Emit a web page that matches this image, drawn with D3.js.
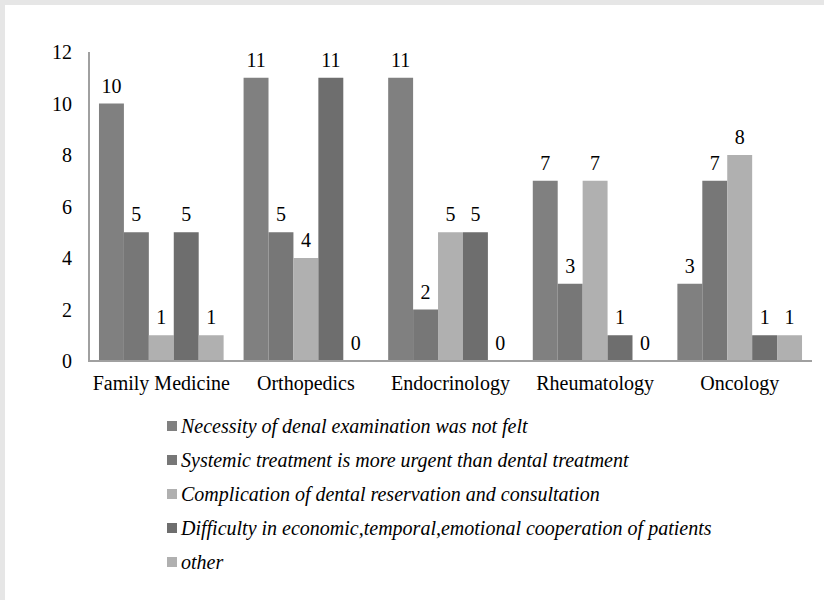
<!DOCTYPE html>
<html>
<meta charset="utf-8">
<style>
  body { margin: 0; background: #e6e6e6; }
  svg { display: block; }
  svg text { font-family: "Times New Roman", "Liberation Serif", Tinos, serif !important; }
  svg text.key { font-style: italic; }
</style>
<body>
<script src="https://d3js.org/d3.v7.min.js"></script>
<script>
  let width = 824, height = 600;
  let serifFont = "Times New Roman";

  let categories = ["Family Medicine", "Orthopedics", "Endocrinology", "Rheumatology", "Oncology"];
  let seriesNames = [
    "Necessity of denal examination was not felt",
    "Systemic treatment is more urgent than dental treatment",
    "Complication of dental reservation and consultation",
    "Difficulty in economic,temporal,emotional cooperation of patients",
    "other"
  ];
  let necessity = [10, 11, 11, 7, 3];
  let systemic = [5, 5, 2, 3, 7];
  let complication = [1, 4, 5, 7, 8];
  let difficulty = [5, 11, 5, 1, 1];
  let other = [1, 0, 0, 0, 1];
  let yTicks = [0, 2, 4, 6, 8, 10, 12];
  let colors = ["#808080", "#777777", "#b0b0b0", "#6e6e6e", "#b0b0b0"];

  let series = [necessity, systemic, complication, difficulty, other];

  let svg = d3.select("body").append("svg")
    .attr("width", width)
    .attr("height", height);

  svg.append("rect")
    .attr("x", 5).attr("y", 5)
    .attr("width", width - 5).attr("height", height - 5)
    .attr("fill", "#fff");

  let plotLeft = 89, plotRight = 812, plotTop = 52, plotBottom = 361;

  let x = d3.scaleBand().domain(categories).range([plotLeft, plotRight]).paddingInner(0.138).paddingOuter(0.069);
  let xs = d3.scaleBand().domain(d3.range(5)).range([0, x.bandwidth()]);
  let y = d3.scaleLinear().domain([0, 12]).range([plotBottom, plotTop]);

  // bars
  series.forEach((vals, si) => {
    svg.append("g").selectAll("rect")
      .data(vals)
      .join("rect")
      .attr("x", (d, ci) => x(categories[ci]) + xs(si))
      .attr("y", d => y(d))
      .attr("width", xs.bandwidth())
      .attr("height", d => y(0) - y(d))
      .attr("fill", colors[si]);
  });

  // axes lines
  svg.append("line")
    .attr("x1", plotLeft).attr("x2", plotLeft)
    .attr("y1", plotTop).attr("y2", plotBottom)
    .attr("stroke", "#a0a0a0").attr("stroke-width", 2);
  svg.append("line")
    .attr("x1", plotLeft - 1).attr("x2", plotRight)
    .attr("y1", plotBottom).attr("y2", plotBottom)
    .attr("stroke", "#a0a0a0").attr("stroke-width", 2);

  // value labels
  let valueLabels = [];
  series.forEach((vals, si) => vals.forEach((v, ci) => valueLabels.push({ si, ci, v })));

  svg.selectAll("text.val")
    .data(valueLabels)
    .join("text")
    .attr("class", "val")
    .attr("x", d => x(categories[d.ci]) + xs(d.si) + xs.bandwidth() / 2)
    .attr("y", d => y(d.v) - 11)
    .attr("text-anchor", "middle")
    .attr("font-size", 20)
    .text(d => String(d.v));

  // y tick labels
  svg.selectAll("text.ytick")
    .data(yTicks)
    .join("text")
    .attr("class", "ytick")
    .attr("x", plotLeft - 17)
    .attr("y", d => y(d) + 7)
    .attr("text-anchor", "end")
    .attr("font-size", 20)
    .text(d => String(d));

  // category labels
  svg.selectAll("text.cat")
    .data(categories)
    .join("text")
    .attr("class", "cat")
    .attr("x", d => x(d) + x.bandwidth() / 2)
    .attr("y", 390)
    .attr("text-anchor", "middle")
    .attr("font-size", 20)
    .text(d => d);

  // legend
  svg.selectAll("rect.key")
    .data(seriesNames)
    .join("rect")
    .attr("class", "key")
    .attr("x", 167)
    .attr("y", (d, i) => 421 + i * 34)
    .attr("width", 10).attr("height", 10)
    .attr("fill", (d, i) => colors[i]);

  svg.selectAll("text.key")
    .data(seriesNames)
    .join("text")
    .attr("class", "key")
    .attr("x", 181)
    .attr("y", (d, i) => 433 + i * 34)
    .attr("font-size", 20)
    .text(d => d);

  // set font on every text as attribute and inline style too
  svg.selectAll("text")
    .attr("font-family", serifFont)
    .style("font-family", `"${serifFont}", "Liberation Serif", serif`);
</script>
</body>
</html>
